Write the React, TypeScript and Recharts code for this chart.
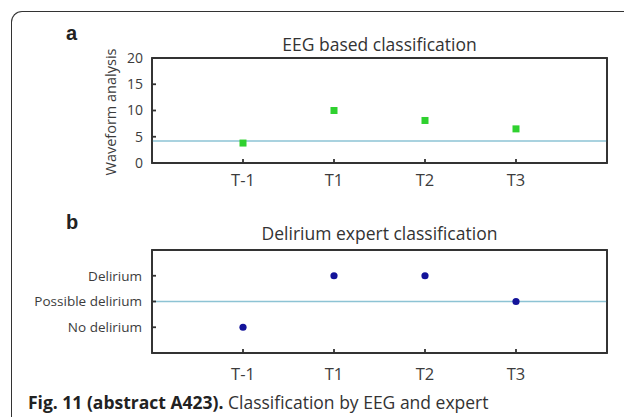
import React from "react";
import { ScatterChart, Scatter, XAxis, YAxis, ReferenceLine, ReferenceArea } from "recharts";

const timepoints = ["T-1", "T1", "T2", "T3"];
const timeIndex = [1, 2, 3, 4];
const waveform = [3.8, 10, 8.1, 6.5];
const eegThreshold = 4.2;
const waveTicks = [0, 5, 10, 15, 20];

const expertLevels = ["No delirium", "Possible delirium", "Delirium"];
const expertLevelIndex = [1, 2, 3];
const expertClass = [1, 3, 3, 2];
const expertThreshold = 2;

const eegData = timeIndex.map((x, i) => ({ x, y: waveform[i] }));
const expertData = timeIndex.map((x, i) => ({ x, y: expertClass[i] }));

const FONT = "'Open Sans', sans-serif";
const AX = "#333";
const TXT = "#3c3c3c";

const GreenSquare = (p: any) => (
  <rect x={p.cx - 3.5} y={p.cy - 3.5} width={7} height={7} fill="#2fd12f" />
);
const BlueDot = (p: any) => <circle cx={p.cx} cy={p.cy} r={3.6} fill="#14149a" />;
const NoShape = () => <g />;

const xFmt = (v: number) => timepoints[timeIndex.indexOf(v)] ?? "";
const yFmtB = (v: number) => expertLevels[expertLevelIndex.indexOf(v)] ?? "";

const axisStyle = { stroke: AX, strokeWidth: 1.8 };

export default function App() {
  return (
    <div
      style={{
        position: "absolute",
        left: 0,
        top: 0,
        width: 624,
        height: 417,
        overflow: "hidden",
        background: "#fff",
        fontFamily: FONT,
      }}
    >
      <div
        style={{
          position: "absolute",
          left: 11,
          top: 11,
          width: 640,
          height: 440,
          borderLeft: "1.5px solid #333",
          borderTop: "1.5px solid #333",
          borderTopLeftRadius: 11,
        }}
      />
      <div style={{ position: "absolute", left: 66, top: 22, fontFamily: "'Liberation Sans', Arial, sans-serif", fontWeight: 700, fontSize: 20, color: "#222" }}>a</div>
      <div style={{ position: "absolute", left: 66, top: 211, fontFamily: "'Liberation Sans', Arial, sans-serif", fontWeight: 700, fontSize: 20, color: "#222" }}>b</div>
      <div style={{ position: "absolute", left: 152, width: 455, top: 33, textAlign: "center", fontSize: 17.5, color: "#333", lineHeight: "22px" }}>
        EEG based classification
      </div>
      <div style={{ position: "absolute", left: 152, width: 455, top: 222, textAlign: "center", fontSize: 17.5, color: "#333", lineHeight: "22px" }}>
        Delirium expert classification
      </div>
      <div
        style={{
          position: "absolute",
          left: 111,
          top: 112,
          transform: "translate(-50%, -50%) rotate(-90deg)",
          whiteSpace: "nowrap",
          fontSize: 14.5,
          color: TXT,
          lineHeight: "16px",
        }}
      >
        Waveform analysis
      </div>

      <div style={{ position: "absolute", left: 0, top: 0 }}>
        <ScatterChart width={624} height={200} margin={{ top: 53, right: 12, bottom: 7, left: 92 }}>
          <XAxis
            dataKey="x"
            type="number"
            domain={[0, 5]}
            ticks={timeIndex}
            tickFormatter={xFmt}
            height={30}
            tickSize={-4}
            tickMargin={15}
            axisLine={axisStyle}
            tickLine={axisStyle}
            tick={{ fill: TXT, fontSize: 16.5, fontFamily: FONT }}
          />
          <XAxis
            xAxisId="top"
            dataKey="x"
            orientation="top"
            type="number"
            domain={[0, 5]}
            ticks={timeIndex}
            height={5}
            tick={false}
            tickSize={-4}
            axisLine={axisStyle}
            tickLine={axisStyle}
          />
          <YAxis
            dataKey="y"
            type="number"
            domain={[0, 20]}
            ticks={waveTicks}
            width={60}
            tickSize={-4}
            tickMargin={13}
            axisLine={axisStyle}
            tickLine={axisStyle}
            tick={{ fill: TXT, fontSize: 14, fontFamily: FONT }}
          />
          <YAxis
            yAxisId="r"
            dataKey="y"
            orientation="right"
            type="number"
            domain={[0, 20]}
            ticks={waveTicks}
            width={5}
            tick={false}
            tickSize={-4}
            axisLine={axisStyle}
            tickLine={axisStyle}
          />
          <ReferenceArea x1={0} x2={5} y1={0} y2={20} fill="none" stroke={AX} strokeWidth={1.8} ifOverflow="visible" />
          <ReferenceLine y={eegThreshold} stroke="#8dc3d4" strokeWidth={1.6} />
          <Scatter data={eegData} xAxisId="top" yAxisId="r" shape={NoShape} isAnimationActive={false} />
          <Scatter data={eegData} shape={GreenSquare} isAnimationActive={false} />
        </ScatterChart>
      </div>

      <div style={{ position: "absolute", left: 0, top: 200 }}>
        <ScatterChart width={624} height={200} margin={{ top: 45, right: 12, bottom: 17, left: 2 }}>
          <XAxis
            dataKey="x"
            type="number"
            domain={[0, 5]}
            ticks={timeIndex}
            tickFormatter={xFmt}
            height={30}
            tickSize={-4}
            tickMargin={19}
            axisLine={axisStyle}
            tickLine={axisStyle}
            tick={{ fill: TXT, fontSize: 16.5, fontFamily: FONT }}
          />
          <XAxis
            xAxisId="top"
            dataKey="x"
            orientation="top"
            type="number"
            domain={[0, 5]}
            ticks={timeIndex}
            height={5}
            tick={false}
            tickSize={-4}
            axisLine={axisStyle}
            tickLine={axisStyle}
          />
          <YAxis
            dataKey="y"
            type="number"
            domain={[0, 4]}
            ticks={expertLevelIndex}
            tickFormatter={yFmtB}
            width={150}
            tickSize={-4}
            tickMargin={14}
            axisLine={axisStyle}
            tickLine={axisStyle}
            tick={{ fill: TXT, fontSize: 13.5, fontFamily: FONT }}
          />
          <YAxis
            yAxisId="r"
            dataKey="y"
            orientation="right"
            type="number"
            domain={[0, 4]}
            ticks={expertLevelIndex}
            width={5}
            tick={false}
            tickSize={-4}
            axisLine={axisStyle}
            tickLine={axisStyle}
          />
          <ReferenceArea x1={0} x2={5} y1={0} y2={4} fill="none" stroke={AX} strokeWidth={1.8} ifOverflow="visible" />
          <ReferenceLine y={expertThreshold} stroke="#8dc3d4" strokeWidth={1.6} />
          <Scatter data={expertData} xAxisId="top" yAxisId="r" shape={NoShape} isAnimationActive={false} />
          <Scatter data={expertData} shape={BlueDot} isAnimationActive={false} />
        </ScatterChart>
      </div>

      <div style={{ position: "absolute", left: 28, top: 391, fontSize: 17.5, color: "#222", whiteSpace: "nowrap", lineHeight: "22px" }}>
        <span style={{ fontWeight: 700 }}>Fig. 11 (abstract A423).</span>
        <span style={{ color: "#333" }}> Classification by EEG and expert</span>
      </div>
    </div>
  );
}
